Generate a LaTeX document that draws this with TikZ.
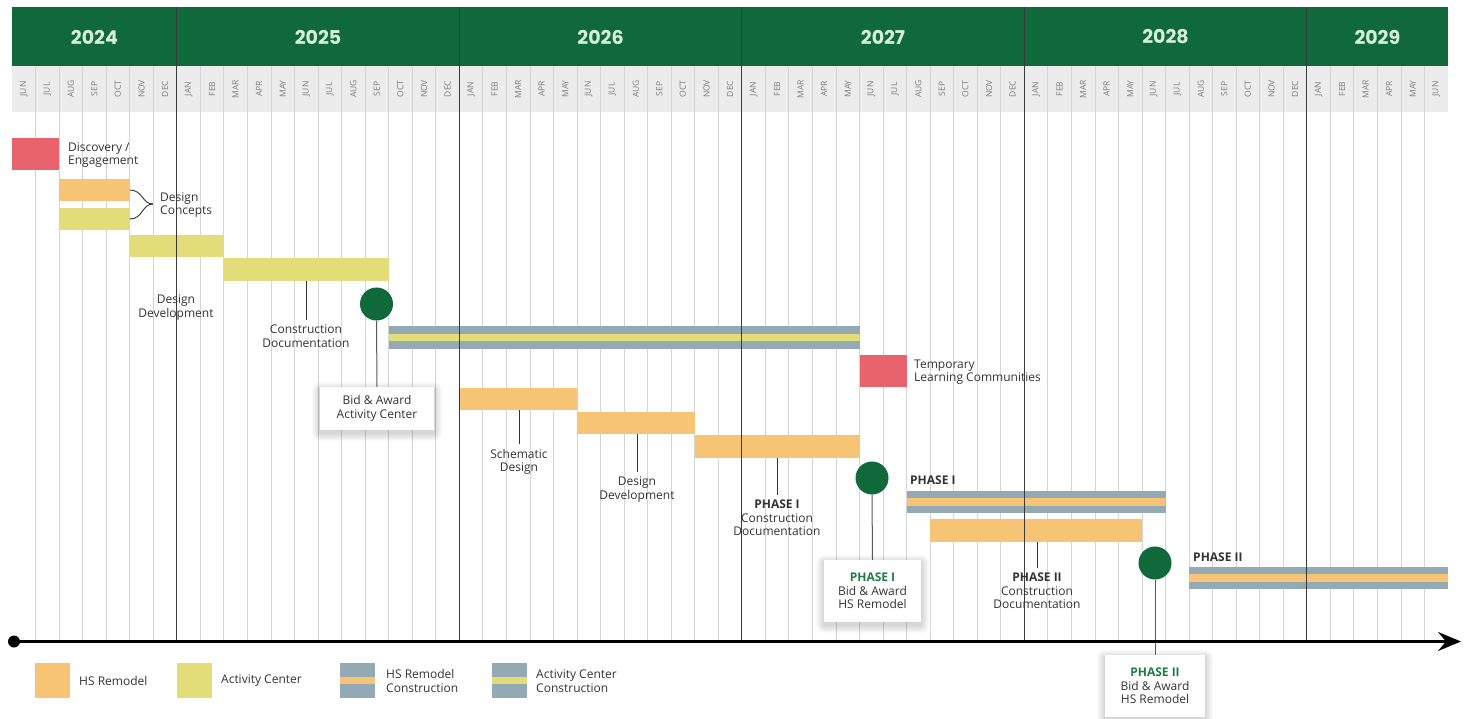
\documentclass[tikz,border=0pt]{standalone}
\usepackage{fontspec}
\setmainfont{Open Sans}
\newfontfamily\yearfont{Poppins}
\usetikzlibrary{arrows.meta,fit}
\definecolor{hdrgreen}{HTML}{10693A}
\definecolor{mint}{HTML}{D6EFD9}
\definecolor{monthbg}{HTML}{ECECEC}
\definecolor{monthtxt}{HTML}{7C7C7C}
\definecolor{gridc}{HTML}{D4D4D4}
\definecolor{yearline}{HTML}{3A3A3A}
\definecolor{hsor}{HTML}{F7C475}
\definecolor{acyel}{HTML}{E2DD78}
\definecolor{redc}{HTML}{E8636B}
\definecolor{bgray}{HTML}{93A9B4}
\definecolor{txt}{HTML}{333333}
\definecolor{phgreen}{HTML}{1F7D47}
\newcommand\softshade[4]{%
  \foreach \k in {1,...,8}{\fill[black, opacity=0.02, rounded corners=\k pt] ({#1-#3/2-\k},{#2-#4/2-\k+3}) rectangle ({#1+#3/2+\k},{#2+#4/2+\k+3});}}
\tikzset{
  bar/.style={inner sep=0pt, outer sep=0pt, draw=none},
  hsbar/.style={bar, fill=hsor},
  acbar/.style={bar, fill=acyel},
  redbar/.style={bar, fill=redc},
  stripe/.style={bar, fill=bgray, path picture={\fill[#1] ([yshift=-3.8pt]path picture bounding box.west) rectangle ([yshift=3.8pt]path picture bounding box.east);}},
  yearlbl/.style={font=\yearfont\bfseries\fontsize{19}{19}\selectfont, text=mint},
  monthlbl/.style={rotate=90, font=\fontsize{8.5}{8.5}\selectfont, text=monthtxt, inner sep=0pt},
  gridline/.style={draw=gridc, line width=0.8pt},
  yearln/.style={draw=yearline, line width=1.2pt},
  lbl/.style={font=\fontsize{12}{13.5}\selectfont, text=txt, align=center, inner sep=2pt},
  lblL/.style={lbl, align=left, anchor=west},
  sublbl/.style={lbl, inner sep=5pt},
  leader/.style={draw=txt, line width=1pt},
  mile/.style={circle, fill=hdrgreen, minimum size=33pt, inner sep=0pt},
  mileline/.style={draw=black!65, line width=1pt},
  callbox/.style={fill=white, align=center, font=\fontsize{12}{13.5}\selectfont, text=txt, inner sep=0pt},
  lgtxt/.style={lbl, align=left, anchor=west}
}
\begin{document}
\begin{tikzpicture}[x=1pt,y=-1pt]
\useasboundingbox[fill=white] (0,0) rectangle (1472,719);
% header bands
\fill[hdrgreen] (12,7) rectangle (1448,66);
\fill[monthbg] (12,66) rectangle (1448,112);
\foreach \yr/\a/\b in {2024/0/7, 2025/7/19, 2026/19/31, 2027/31/43, 2028/43/55, 2029/55/61}
  \node[yearlbl] (y\yr) at ({12+23.541*(\a+\b)/2},37) {\yr};
\foreach \m [count=\i from 0] in {JUN,JUL,AUG,SEP,OCT,NOV,DEC,
  JAN,FEB,MAR,APR,MAY,JUN,JUL,AUG,SEP,OCT,NOV,DEC,
  JAN,FEB,MAR,APR,MAY,JUN,JUL,AUG,SEP,OCT,NOV,DEC,
  JAN,FEB,MAR,APR,MAY,JUN,JUL,AUG,SEP,OCT,NOV,DEC,
  JAN,FEB,MAR,APR,MAY,JUN,JUL,AUG,SEP,OCT,NOV,DEC,
  JAN,FEB,MAR,APR,MAY,JUN}
  \node[monthlbl] (m\i) at ({12+23.541*(\i+0.5)},89) {\m};
% month grid
\foreach \i in {1,...,60}
  \draw[gridline] ({12+23.541*\i},66) -- ({12+23.541*\i},641);
% bars
\node[redbar, fit={(12,138) (59.1,170)}] (disc) {};
\node[hsbar, fit={(59.1,179) (129.7,201)}] (dcH) {};
\node[acbar, fit={(59.1,208) (129.7,230)}] (dcA) {};
\node[acbar, fit={(129.7,235) (223.9,257)}] (ddA) {};
\node[acbar, fit={(223.9,258) (388.7,281)}] (cdA) {};
\node[stripe=acyel, fit={(388.7,326) (859.5,349)}] (acC) {};
\node[redbar, fit={(859.5,355) (906.6,387)}] (tlc) {};
\node[hsbar, fit={(459.3,388) (577.0,410)}] (sdH) {};
\node[hsbar, fit={(577.0,412) (694.7,434)}] (ddH) {};
\node[hsbar, fit={(694.7,435) (859.5,458)}] (cdH1) {};
\node[stripe=hsor, fit={(906.6,491) (1165.5,513)}] (hc1) {};
\node[hsbar, fit={(930.1,519) (1142.0,542)}] (cdH2) {};
\node[stripe=hsor, fit={(1189.1,567) (1448,589)}] (hc2) {};
% year lines
\foreach \i in {7,19,31,43,55}
  \draw[yearln] ({12+23.541*\i},7) -- ({12+23.541*\i},641);
% labels
\node[lblL] (discT) at (66,155) {Discovery /\\Engagement};
\coordinate (bt) at (153,204);
\draw[leader, line width=0.9pt] (dcH.east) .. controls (143,190) and (142,204) .. (bt);
\draw[leader, line width=0.9pt] (dcA.east) .. controls (143,219) and (142,204) .. (bt);
\node[lblL] (dcT) at (158,205) {Design\\Concepts};
\node[lbl] (ddAT) at (176,307.5) {Design\\Development};
\node[sublbl] (cdAT) at (306,336) {Construction\\Documentation};
\draw[leader] (cdAT.north |- cdA.south) -- (cdAT.north);
\node[lblL] (tlcT) at (912,372) {Temporary\\Learning Communities};
\node[sublbl] (sdT) at (519,462) {Schematic\\Design};
\draw[leader] (sdT.north |- sdH.south) -- (sdT.north);
\node[sublbl] (ddHT) at (637,489.5) {Design\\Development};
\draw[leader] (ddHT.north |- ddH.south) -- (ddHT.north);
\node[sublbl] (cdH1T) at (777,518) {\textbf{PHASE I}\\Construction\\Documentation};
\draw[leader] (cdH1T.north |- cdH1.south) -- (cdH1T.north);
\node[sublbl] (cdH2T) at (1037,591) {\textbf{PHASE II}\\Construction\\Documentation};
\draw[leader] (cdH2T.north |- cdH2.south) -- (cdH2T.north);
\node[lblL] (hc1T) at (908,480) {\textbf{PHASE I}};
\node[lblL] (hc2T) at (1191,557) {\textbf{PHASE II}};
% milestones
\node[mile] (c1) at (376.5,304) {};
\node[mile] (c2) at (872,478) {};
\node[mile] (c3) at (1155,563) {};
\softshade{377}{408.5}{114}{43}
\softshade{872.5}{591}{97}{62}
\softshade{1155}{686}{100}{62}
\node[callbox, minimum width=114pt, minimum height=43pt] (b1) at (377,408.5) {Bid \& Award\\Activity Center};
\node[callbox, minimum width=97pt, minimum height=62pt] (b2) at (872.5,591) {\textcolor{phgreen}{\textbf{PHASE I}}\\Bid \& Award\\HS Remodel};
\node[callbox, minimum width=100pt, minimum height=62pt] (b3) at (1155,686) {\textcolor{phgreen}{\textbf{PHASE II}}\\Bid \& Award\\HS Remodel};
\draw[mileline] (c1.south) -- (b1.north);
\draw[mileline] (c2.south) -- (b2.north);
\draw[mileline] (c3.south) -- (b3.north);
% axis
\node[circle, fill=black, minimum size=12pt, inner sep=0pt] (ax0) at (14,641.5) {};
\coordinate (ax1) at (1461,641.5);
\draw[line width=2.6pt, -{Stealth[length=23pt, width=19pt, inset=8pt]}] (ax0.center) -- (ax1);
% legend
\node[hsbar, fit={(35,663) (70,698)}] (lg1) {};
\node[lgtxt] (lg1t) at (77,681) {HS Remodel};
\node[acbar, fit={(177,663) (212,698)}] (lg2) {};
\node[lgtxt] (lg2t) at (219,681) {Activity Center};
\node[stripe=hsor, fit={(340,663) (375,698)}] (lg3) {};
\node[lgtxt] (lg3t) at (384,681) {HS Remodel\\Construction};
\node[stripe=acyel, fit={(492,663) (527,698)}] (lg4) {};
\node[lgtxt] (lg4t) at (534,681) {Activity Center\\Construction};
\end{tikzpicture}
\end{document}
